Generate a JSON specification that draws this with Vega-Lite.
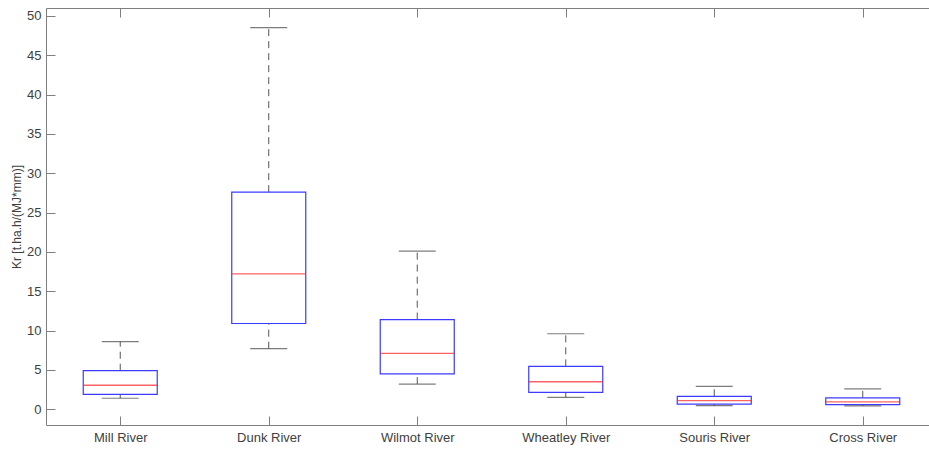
{
  "$schema": "https://vega.github.io/schema/vega-lite/v6.json",
  "autosize": {"type": "none"},
  "padding": {"left": 46, "top": 8, "right": 0, "bottom": 24},
  "width": 883,
  "height": 417,
  "background": "white",
  "config": {
    "view": {"stroke": null},
    "font": "Liberation Sans",
    "axis": {"grid": false, "domainColor": "#7f7f7f", "tickColor": "#7f7f7f", "labelColor": "#404040", "titleColor": "#404040", "labelFontSize": 13, "titleFontSize": 12, "titleFontWeight": "normal"}
  },
  "data": {
    "values": [
      {"river": "Mill River", "lower": 1.4, "q1": 1.9, "median": 3.05, "q3": 4.9, "upper": 8.6},
      {"river": "Dunk River", "lower": 7.7, "q1": 10.9, "median": 17.2, "q3": 27.6, "upper": 48.5},
      {"river": "Wilmot River", "lower": 3.2, "q1": 4.5, "median": 7.1, "q3": 11.4, "upper": 20.1},
      {"river": "Wheatley River", "lower": 1.5, "q1": 2.15, "median": 3.5, "q3": 5.45, "upper": 9.6},
      {"river": "Souris River", "lower": 0.45, "q1": 0.65, "median": 1.1, "q3": 1.65, "upper": 2.9},
      {"river": "Cross River", "lower": 0.42, "q1": 0.6, "median": 0.95, "q3": 1.45, "upper": 2.6}
    ]
  },
  "resolve": {"axis": {"x": "independent"}},
  "layer": [
    {
      "mark": {"type": "rule", "color": "#555555", "strokeWidth": 1, "strokeDash": [7, 5]},
      "encoding": {
        "x": {"field": "river", "type": "nominal", "sort": null,
              "scale": {"type": "point", "padding": 0.473, "align": 0.5285},
              "axis": {"orient": "bottom", "title": null, "labelAngle": 0, "tickSize": -9, "labelPadding": 15}},
        "y": {"field": "q3", "type": "quantitative",
              "scale": {"domain": [-2, 51], "nice": false, "zero": false},
              "axis": {"title": "Kr [t.ha.h/(MJ*mm)]", "values": [0, 5, 10, 15, 20, 25, 30, 35, 40, 45, 50], "tickSize": -9, "labelPadding": 14, "titlePadding": 3}},
        "y2": {"field": "upper"}
      }
    },
    {
      "mark": {"type": "rule", "color": "#555555", "strokeWidth": 1, "strokeDash": [7, 5]},
      "encoding": {
        "x": {"field": "river", "type": "nominal", "sort": null,
              "axis": {"orient": "top", "title": null, "labels": false, "tickSize": -9}},
        "y": {"field": "lower", "type": "quantitative"},
        "y2": {"field": "q1"}
      }
    },
    {
      "mark": {"type": "bar", "fill": "white", "fillOpacity": 0, "stroke": "#3b3bff", "strokeWidth": 1.2, "size": 74},
      "encoding": {
        "x": {"field": "river", "type": "nominal", "sort": null, "axis": null},
        "y": {"field": "q1", "type": "quantitative"},
        "y2": {"field": "q3"}
      }
    },
    {
      "mark": {"type": "tick", "color": "#ff2020", "size": 74, "thickness": 1.3},
      "encoding": {
        "x": {"field": "river", "type": "nominal", "sort": null, "axis": null},
        "y": {"field": "median", "type": "quantitative"}
      }
    },
    {
      "mark": {"type": "tick", "color": "#444444", "size": 37, "thickness": 1.2},
      "encoding": {
        "x": {"field": "river", "type": "nominal", "sort": null, "axis": null},
        "y": {"field": "upper", "type": "quantitative"}
      }
    },
    {
      "mark": {"type": "tick", "color": "#444444", "size": 37, "thickness": 1.2},
      "encoding": {
        "x": {"field": "river", "type": "nominal", "sort": null, "axis": null},
        "y": {"field": "lower", "type": "quantitative"}
      }
    }
  ]
}
